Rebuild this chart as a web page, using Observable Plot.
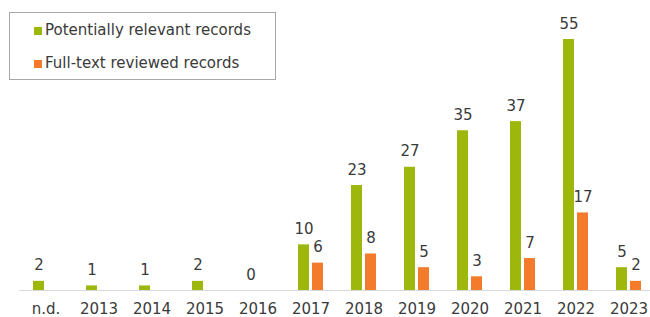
<!DOCTYPE html>
<html>
<head>
<meta charset="utf-8">
<script src="https://cdn.jsdelivr.net/npm/d3@7"></script>
<script src="https://cdn.jsdelivr.net/npm/@observablehq/plot@0.6"></script>
<style>
  html, body { margin: 0; padding: 0; background: #fff; overflow: hidden; }
  #wrap { position: relative; width: 650px; height: 317px; }
  #legend {
    position: absolute; left: 9px; top: 12px; width: 265px; height: 66px;
    border: 1px solid #a8a8a8; background: #fff;
    font-family: "DejaVu Sans", sans-serif; font-size: 15px; color: #3a3a3a;
  }
  .item { position: absolute; left: 24px; white-space: nowrap; line-height: 18px; }
  .sw { display: inline-block; width: 8px; height: 8px; margin-right: 3px; vertical-align: 0px; }
</style>
</head>
<body>
<div id="wrap"></div>
<script>
const categories = ["n.d.", "2013", "2014", "2015", "2016", "2017", "2018", "2019", "2020", "2021", "2022", "2023"];
const potentiallyRelevant = [2, 1, 1, 2, 0, 10, 23, 27, 35, 37, 55, 5];
const fullTextReviewed = [0, 0, 0, 0, 0, 6, 8, 5, 3, 7, 17, 2];
const seriesNames = ["Potentially relevant records", "Full-text reviewed records"];
const seriesColors = ["#9db70c", "#f47b2c"];

const data = [];
categories.forEach((c, i) => {
  data.push({cat: c, series: seriesNames[0], value: potentiallyRelevant[i]});
  data.push({cat: c, series: seriesNames[1], value: fullTextReviewed[i]});
});
const labelData = data.filter(d => d.series === seriesNames[0] || d.value > 0);

const chart = Plot.plot({
  width: 650,
  height: 317,
  marginTop: 39,
  marginBottom: 27,
  marginLeft: 16,
  marginRight: 0,
  style: {fontFamily: "DejaVu Sans, sans-serif", fontSize: "15px", color: "#3a3a3a", background: "#fff", overflow: "visible"},
  fx: {domain: categories, range: [16.25, 658.25], padding: 0, label: null, tickSize: 0, tickPadding: 13},
  x: {domain: seriesNames, paddingInner: 0.2, paddingOuter: 0.88, axis: null},
  y: {domain: [0, 55], axis: null},
  color: {domain: seriesNames, range: seriesColors},
  marks: [
    Plot.ruleY([0], {stroke: "#d9d9d9", strokeWidth: 1}),
    Plot.barY(data, {fx: "cat", x: "series", y: "value", fill: "series"}),
    Plot.text(labelData, {fx: "cat", x: "series", y: "value", text: d => String(d.value),
      lineAnchor: "bottom", dy: -11, fill: "#3a3a3a", fontSize: 15})
  ]
});

const wrap = document.getElementById("wrap");
wrap.appendChild(chart);

const legend = document.createElement("div");
legend.id = "legend";
seriesNames.forEach((name, i) => {
  const item = document.createElement("div");
  item.className = "item";
  item.style.top = (i === 0 ? 8 : 41) + "px";
  const sw = document.createElement("span");
  sw.className = "sw";
  sw.style.background = seriesColors[i];
  item.appendChild(sw);
  item.appendChild(document.createTextNode(name));
  legend.appendChild(item);
});
wrap.appendChild(legend);
</script>
</body>
</html>
